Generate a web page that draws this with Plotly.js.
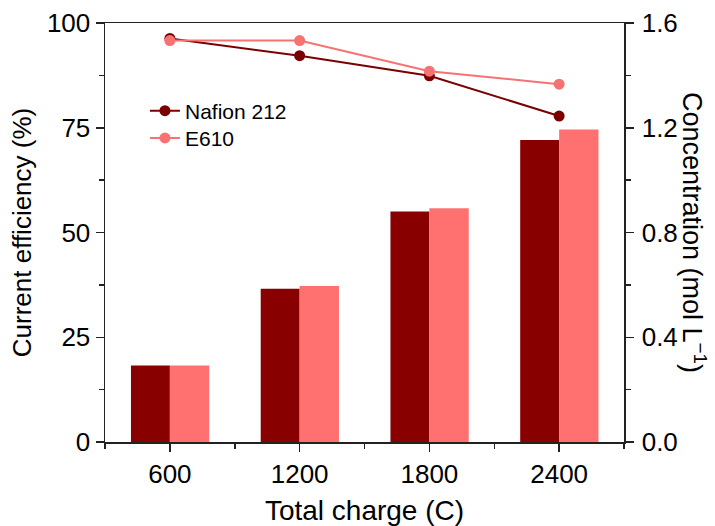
<!DOCTYPE html>
<html>
<head>
<meta charset="utf-8">
<script src="https://cdn.plot.ly/plotly-3.0.1.min.js"></script>
<style>html,body{margin:0;padding:0;background:#fff;}#chart{width:715px;height:526px;}</style>
</head>
<body>
<div id="chart"></div>
<script>
// Data
var totalCharge = [600, 1200, 1800, 2400];
var seriesNames = ["Nafion 212", "E610"];
var efficiencyNafion = [96.3, 92.2, 87.4, 77.8];   // Current efficiency (%)
var efficiencyE610 = [95.8, 95.8, 88.5, 85.4];
var concNafion = [0.292, 0.585, 0.880, 1.153];     // Concentration (mol L-1)
var concE610 = [0.292, 0.596, 0.893, 1.193];
var xTickVals = [600, 1200, 1800, 2400];
var xTickText = ["600", "1200", "1800", "2400"];

var darkRed = "#880000";
var darkLine = "#7a0000";
var lightRed = "#ff7070";
var lightLine = "#f77272";
var FONT = "Liberation Sans, Arial, sans-serif";

var traces = [
  {type: "bar", x: totalCharge, y: concNafion, yaxis: "y", width: 180, offset: -180,
   marker: {color: darkRed, line: {width: 0}}, showlegend: false, hoverinfo: "skip", name: seriesNames[0]},
  {type: "bar", x: totalCharge, y: concE610, yaxis: "y", width: 182, offset: 0,
   marker: {color: lightRed, line: {width: 0}}, showlegend: false, hoverinfo: "skip", name: seriesNames[1]},
  {type: "scatter", mode: "lines+markers", x: totalCharge, y: efficiencyNafion, yaxis: "y2",
   name: seriesNames[0], legend: "legend", line: {color: darkLine, width: 2}, marker: {color: darkLine, size: 11}},
  {type: "scatter", mode: "lines+markers", x: totalCharge, y: efficiencyE610, yaxis: "y2",
   name: seriesNames[1], legend: "legend2", line: {color: lightLine, width: 2}, marker: {color: lightLine, size: 11}}
];

var legendBase = {xanchor: "left", yanchor: "middle", bgcolor: "rgba(0,0,0,0)",
                  font: {family: FONT, size: 21, color: "#000"}};

var layout = {
  width: 715, height: 526,
  margin: {l: 104.5, r: 90.7, t: 23, b: 83.7},
  paper_bgcolor: "#fff", plot_bgcolor: "#fff",
  font: {family: FONT, size: 24, color: "#000"},
  showlegend: true,
  legend: Object.assign({x: 0.077, y: 0.79}, legendBase),
  legend2: Object.assign({x: 0.077, y: 0.725}, legendBase),
  barmode: "overlay",
  xaxis: {
    range: [300, 2700], showgrid: false, zeroline: false,
    showline: true, linecolor: "#222", linewidth: 1.5, mirror: true,
    tickmode: "array", tickvals: xTickVals, ticktext: xTickText,
    ticks: "outside", ticklen: 8, tickwidth: 1.5, tickcolor: "#222",
    tickfont: {family: FONT, size: 26, color: "#000"},
    minor: {tickmode: "array", tickvals: [300, 900, 1500, 2100, 2700], ticks: "outside", ticklen: 5, tickwidth: 1.5, tickcolor: "#222"},
    title: {text: "Total charge (C)", font: {family: FONT, size: 28, color: "#000"}, standoff: 12},
    automargin: false
  },
  yaxis: {
    side: "right", range: [0, 1.6], showgrid: false, zeroline: false,
    showline: true, linecolor: "#222", linewidth: 1.5,
    tickmode: "linear", tick0: 0, dtick: 0.4, tickformat: ".1f",
    ticks: "outside", ticklen: 8, tickwidth: 1.5, tickcolor: "#222", ticklabelstandoff: 3,
    tickfont: {family: FONT, size: 26, color: "#000"},
    minor: {dtick: 0.2, ticks: "outside", ticklen: 5, tickwidth: 1.5, tickcolor: "#222"},
    automargin: false
  },
  yaxis2: {
    overlaying: "y", side: "left", range: [0, 100], showgrid: false, zeroline: false,
    showline: true, linecolor: "#222", linewidth: 1.5,
    tickmode: "linear", tick0: 0, dtick: 25,
    ticks: "outside", ticklen: 8, tickwidth: 1.5, tickcolor: "#222",
    tickfont: {family: FONT, size: 26, color: "#000"},
    minor: {dtick: 12.5, ticks: "outside", ticklen: 5, tickwidth: 1.5, tickcolor: "#222"},
    title: {text: "Current efficiency (%)", font: {family: FONT, size: 26, color: "#000"}, standoff: 8},
    automargin: false
  },
  annotations: [{
    xref: "paper", yref: "paper", x: 1.136, y: 0.5, xanchor: "center", yanchor: "middle",
    text: "Concentration (mol L<sup>\u22121</sup>)", textangle: 90, showarrow: false,
    font: {family: FONT, size: 27, color: "#000"}
  }]
};

Plotly.newPlot("chart", traces, layout, {displayModeBar: false, staticPlot: true});
</script>
</body>
</html>
